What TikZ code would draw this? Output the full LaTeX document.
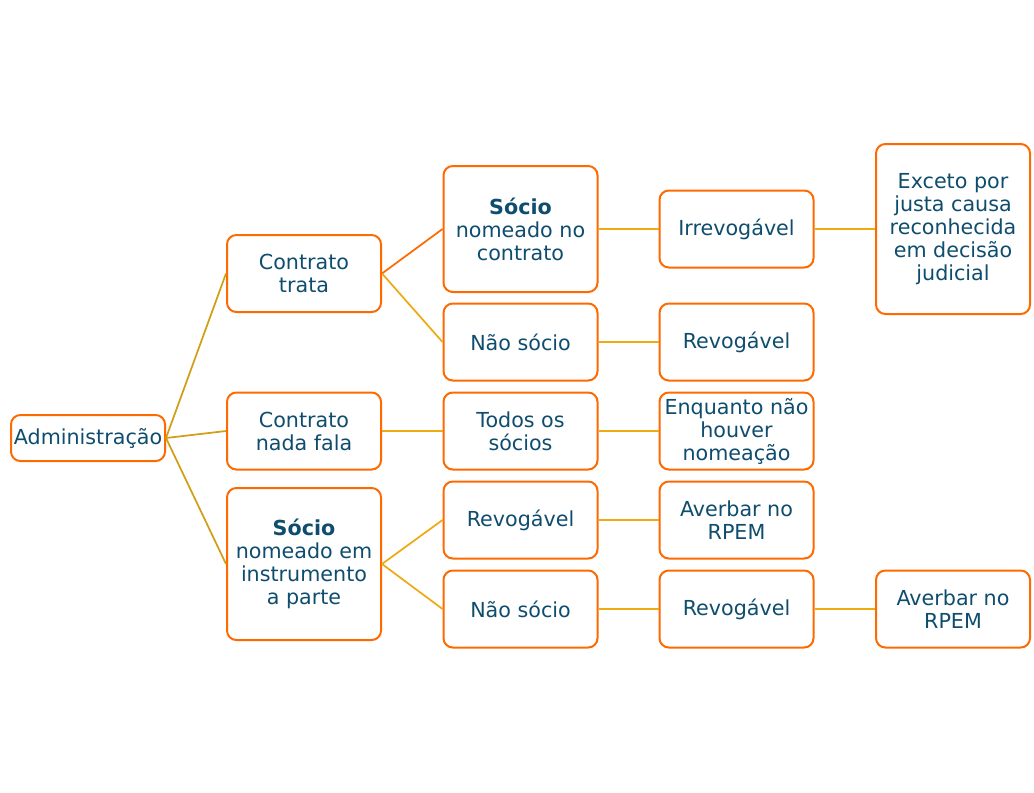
\documentclass[tikz,border=0pt]{standalone}
\usepackage{fontspec}
\setmainfont{DejaVu Sans}
\definecolor{boxline}{HTML}{FF6A00}
\definecolor{txtblue}{HTML}{0F4D6E}
\definecolor{goldline}{HTML}{EDAA12}
\definecolor{darkgold}{HTML}{D29E14}

\begin{document}
\begin{tikzpicture}[x=0.75pt,y=-0.75pt,
  box/.style={draw=boxline, line width=1.5pt, rounded corners=7pt, fill=white,
    text=txtblue, align=center, minimum width=115.5pt, minimum height=57.75pt,
    inner sep=1pt, font=\fontsize{15.5}{17.25}\selectfont},
  link/.style={goldline, line width=1.3pt}]
% Canvas
\useasboundingbox (0,0) rectangle (1034,792);
% Root
\node[box, minimum height=34.5pt] (adm) at (88,438) {Administração};
% Level 1
\node[box] (trata) at (304,273.5) {Contrato\\trata};
\node[box] (nada) at (304,431) {Contrato\\nada fala};
\node[box, minimum height=114pt] (instr) at (304,564) {\textbf{Sócio}\\nomeado em\\instrumento\\a parte};
% Level 2
\node[box, minimum height=94.5pt] (nomeado) at (520.5,229) {\textbf{Sócio}\\nomeado no\\contrato};
\node[box] (naosocioA) at (520.5,342) {Não sócio};
\node[box] (todos) at (520.5,431) {Todos os\\sócios};
\node[box] (revogB) at (520.5,520) {Revogável};
\node[box] (naosocioB) at (520.5,609) {Não sócio};
% Level 3
\node[box] (irrevog) at (736.5,229) {Irrevogável};
\node[box] (revogA) at (736.5,342) {Revogável};
\node[box] (enquanto) at (736.5,431) {Enquanto não\\houver\\nomeação};
\node[box] (averbarA) at (736.5,520) {Averbar no\\RPEM};
\node[box] (revogC) at (736.5,609) {Revogável};
% Level 4
\node[box, minimum height=127.5pt] (exceto) at (953,229) {Exceto por\\justa causa\\reconhecida\\em decisão\\judicial};
\node[box] (averbarB) at (953,609) {Averbar no\\RPEM};
% Connectors
\draw[link, darkgold] (adm.east) -- (trata.west);
\draw[link, darkgold] (adm.east) -- (nada.west);
\draw[link, darkgold] (adm.east) -- (instr.west);
\draw[link, boxline] (trata.east) -- (nomeado.west);
\draw[link] (trata.east) -- (naosocioA.west);
\draw[link] (nada.east) -- (todos.west);
\draw[link] (instr.east) -- (revogB.west);
\draw[link] (instr.east) -- (naosocioB.west);
\draw[link] (nomeado.east) -- (irrevog.west);
\draw[link] (naosocioA.east) -- (revogA.west);
\draw[link] (todos.east) -- (enquanto.west);
\draw[link] (revogB.east) -- (averbarA.west);
\draw[link] (naosocioB.east) -- (revogC.west);
\draw[link] (irrevog.east) -- (exceto.west);
\draw[link] (revogC.east) -- (averbarB.west);
\end{tikzpicture}
\end{document}
